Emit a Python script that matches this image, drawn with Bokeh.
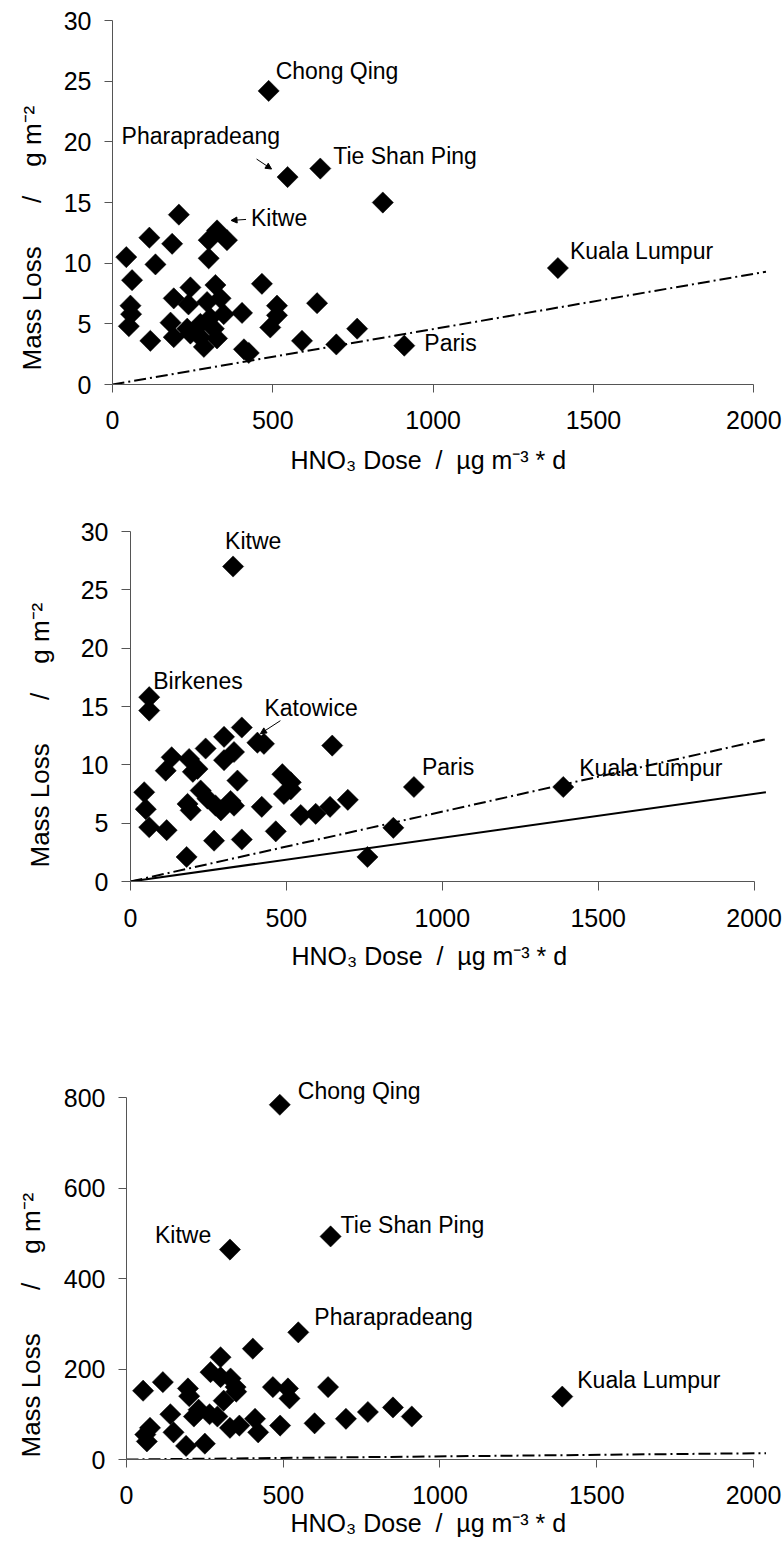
import math
from bokeh.plotting import figure
from bokeh.models import Arrow, NormalHead, ColumnDataSource, FixedTicker, Title
from bokeh.embed import file_html
from bokeh.resources import INLINE
from bokeh.core.properties import value

FONT = "Liberation Sans"

# ---------------- data: panel A ----------------
a_dose = [487, 546, 648, 843, 326, 207, 115, 186, 300, 357, 43, 134, 300, 61, 466, 243, 321,
          191, 237, 295, 337, 638, 513, 56, 58, 404, 513, 347, 305, 51, 181, 233, 274, 316,
          492, 763, 118, 191, 285, 326, 243, 274, 591, 698, 410, 425, 910, 1389]
a_loss = [24.2, 17.1, 17.8, 15.0, 12.7, 14.0, 12.1, 11.6, 11.9, 11.9, 10.5, 9.9, 10.4, 8.6, 8.3, 8.0, 8.2,
          7.1, 6.6, 6.8, 7.1, 6.7, 6.5, 6.5, 5.8, 5.9, 5.7, 5.8, 5.5, 4.8, 5.1, 4.6, 5.0, 4.6,
          4.7, 4.6, 3.6, 3.9, 3.1, 3.8, 4.2, 3.9, 3.6, 3.3, 2.9, 2.6, 3.2, 9.6]
a_site = ["Chong Qing", "Pharapradeang", "Tie Shan Ping", "", "Kitwe"] + [""] * 41 + ["Paris", "Kuala Lumpur"]
a_fit_x = [0, 2038]
a_fit_y = [0, 9.3]

# ---------------- data: panel B ----------------
b_dose = [329, 60, 60, 357, 407, 428, 647, 300, 241, 332, 300, 132, 188, 113, 215, 200, 343, 487,
          514, 492, 514, 44, 225, 247, 273, 290, 321, 332, 183, 193, 49, 60, 116, 421, 466, 546,
          594, 640, 697, 268, 357, 180, 760, 843, 909, 1388]
b_loss = [27.0, 15.8, 14.65, 13.2, 11.9, 11.8, 11.65, 12.4, 11.4, 11.1, 10.4, 10.65, 10.5, 9.5, 9.65, 9.4, 8.65, 9.2,
          8.5, 7.5, 7.9, 7.65, 7.8, 7.1, 6.5, 6.1, 6.9, 6.5, 6.65, 6.1, 6.2, 4.65, 4.4, 6.4, 4.3, 5.7,
          5.8, 6.4, 7.0, 3.5, 3.6, 2.1, 2.1, 4.6, 8.1, 8.1]
b_site = ["Kitwe", "Birkenes", "", "", "Katowice"] + [""] * 39 + ["Paris", "Kuala Lumpur"]
b_fit1_x = [0, 2038]
b_fit1_y = [0, 12.2]
b_fit2_x = [0, 2038]
b_fit2_y = [0, 7.65]

# ---------------- data: panel C ----------------
c_dose = [489, 330, 651, 548, 403, 300, 268, 300, 332, 348, 116, 467, 515, 643, 196, 53,
          60, 65, 75, 140, 150, 190, 200, 215, 230, 250, 265, 290, 310, 330, 350, 360, 410,
          420, 490, 520, 600, 700, 770, 850, 910, 1390]
c_loss = [784, 464, 493, 281, 245, 226, 193, 182, 179, 160, 171, 160, 157, 160, 157, 152,
          55, 40, 70, 100, 60, 30, 140, 95, 110, 35, 100, 95, 130, 70, 150, 75, 90,
          60, 75, 135, 80, 90, 105, 115, 95, 139]
c_site = ["Chong Qing", "Kitwe", "Tie Shan Ping", "Pharapradeang"] + [""] * 37 + ["Kuala Lumpur"]
c_fit_x = [0, 2040]
c_fit_y = [0, 14]

x_ticks = [0, 500, 1000, 1500, 2000]
a_y_ticks = [0, 5, 10, 15, 20, 25, 30]
c_y_ticks = [0, 200, 400, 600, 800]

NB = "\u00a0"
X_TITLE = "HNO\u2083 Dose" + NB * 2 + "/" + NB * 2 + "\u00b5g m\u207b\u00b3 * d"
Y_TITLE = "Mass Loss" + NB * 6 + "/" + NB * 4 + "g m\u207b\u00b2"

# ---------------- layout / style (screen pixels) ----------------
A = dict(h=500, left=112, fw=654, fh=383, top=1, x_end=2039.6, y_end=31.57, y_bounds=(0, 30),
         yticks=a_y_ticks, tick_out=8,
         xt_off=178, xt_stand=25, yt_off=14, yt_stand=24,
         labels={"Chong Qing": (7, -20), "Pharapradeang": (-166, -41), "Tie Shan Ping": (13, -13),
                 "Kitwe": (34, -12), "Kuala Lumpur": (12, -17), "Paris": (20, -3)},
         arrows={"Pharapradeang": ((-31, -18), (-16, -8)), "Kitwe": ((29, -11), (14, -10))})
B = dict(h=550, left=130, fw=636, fh=376, top=5, x_end=2039.8, y_end=32.23, y_bounds=(0, 30),
         yticks=a_y_ticks, tick_out=9,
         xt_off=161, xt_stand=21, yt_off=14, yt_stand=42,
         labels={"Kitwe": (-8, -26), "Birkenes": (4, -16), "Katowice": (7, -35),
                 "Paris": (8, -20), "Kuala Lumpur": (16, -19)},
         arrows={"Katowice": ((23, -22), (3, -9))})
C = dict(h=499, left=126, fw=640, fh=389, top=20, x_end=2041.5, y_end=859.7, y_bounds=(0, 800),
         yticks=c_y_ticks, tick_out=8,
         xt_off=164, xt_stand=0, yt_off=2, yt_stand=25,
         labels={"Chong Qing": (18, -14), "Kitwe": (-75, -15), "Tie Shan Ping": (10, -11),
                 "Pharapradeang": (16, -15), "Kuala Lumpur": (15, -17)},
         arrows={})
W = 783


def make_panel(cfg, dose, loss, site, lines):
    right = W - cfg["left"] - cfg["fw"]
    bottom = cfg["h"] - cfg["top"] - cfg["fh"]
    p = figure(width=W, height=cfg["h"], x_range=(0, cfg["x_end"]), y_range=(0, cfg["y_end"]),
               output_backend="svg", toolbar_location=None,
               min_border_left=cfg["left"], min_border_right=right,
               min_border_top=cfg["top"], min_border_bottom=bottom)
    p.outline_line_color = None
    p.xgrid.visible = False
    p.ygrid.visible = False
    p.background_fill_color = "white"
    p.border_fill_color = "white"

    for ax, ticks, bounds in ((p.xaxis[0], x_ticks, (0, 2000)), (p.yaxis[0], cfg["yticks"], cfg["y_bounds"])):
        ax.ticker = FixedTicker(ticks=ticks)
        ax.bounds = bounds
        ax.axis_line_color = "#555555"
        ax.major_tick_line_color = "#555555"
        ax.major_tick_out = cfg["tick_out"]
        ax.major_tick_in = 0
        ax.minor_tick_out = 0
        ax.minor_tick_in = 0
        ax.major_label_text_font = FONT
        ax.major_label_text_font_size = "25px"
        ax.major_label_text_color = "black"
    p.xaxis.major_label_standoff = 18
    p.yaxis.major_label_standoff = 13

    # axis titles (side titles, shifted to where the reference has them)
    p.add_layout(Title(text=X_TITLE, align="left", offset=cfg["xt_off"], standoff=cfg["xt_stand"],
                       text_font=FONT, text_font_size="25px", text_font_style="normal",
                       text_color="black"), "below")
    p.add_layout(Title(text=Y_TITLE, align="left", vertical_align="top", offset=cfg["yt_off"],
                       standoff=cfg["yt_stand"], text_font=FONT, text_font_size="26px",
                       text_font_style="normal", text_color="black"), "left")

    # fitted lines
    for lx, ly, dash, lw in lines:
        p.line(lx, ly, line_color="black", line_width=lw, line_dash=dash)

    # points
    p.scatter(dose, loss, marker="square", size=15, angle=math.pi / 4,
              fill_color="black", line_color="black", line_width=0.5)

    # labels
    sx = cfg["fw"] / cfg["x_end"]
    sy = cfg["fh"] / cfg["y_end"]
    lx, ly, lt, ox, oy = [], [], [], [], []
    for d, l, s in zip(dose, loss, site):
        if s:
            dx, dy = cfg["labels"][s]
            lx.append(d); ly.append(l); lt.append(s); ox.append(dx); oy.append(dy)
            if s in cfg["arrows"]:
                (s0x, s0y), (e0x, e0y) = cfg["arrows"][s]
                p.add_layout(Arrow(end=NormalHead(size=6, fill_color="black", line_color="black", line_width=1),
                                   x_start=d + s0x / sx, y_start=l - s0y / sy,
                                   x_end=d + e0x / sx, y_end=l - e0y / sy,
                                   line_color="black", line_width=1))
    src = ColumnDataSource(dict(x=lx, y=ly, t=lt, ox=ox, oy=oy))
    p.text(x="x", y="y", text="t", x_offset="ox", y_offset="oy", source=src,
           text_font=value(FONT), text_font_size="23px", text_color="black",
           text_align="left", text_baseline="alphabetic")
    return p


p1 = make_panel(A, a_dose, a_loss, a_site, [(a_fit_x, a_fit_y, "12 4 2 4", 2)])
p2 = make_panel(B, b_dose, b_loss, b_site, [(b_fit1_x, b_fit1_y, "12 4 2 4", 2),
                                             (b_fit2_x, b_fit2_y, "solid", 2)])
p3 = make_panel(C, c_dose, c_loss, c_site, [(c_fit_x, c_fit_y, "12 4 2 4", 2)])

open("out.html", "w").write(file_html([p1, p2, p3], INLINE))
